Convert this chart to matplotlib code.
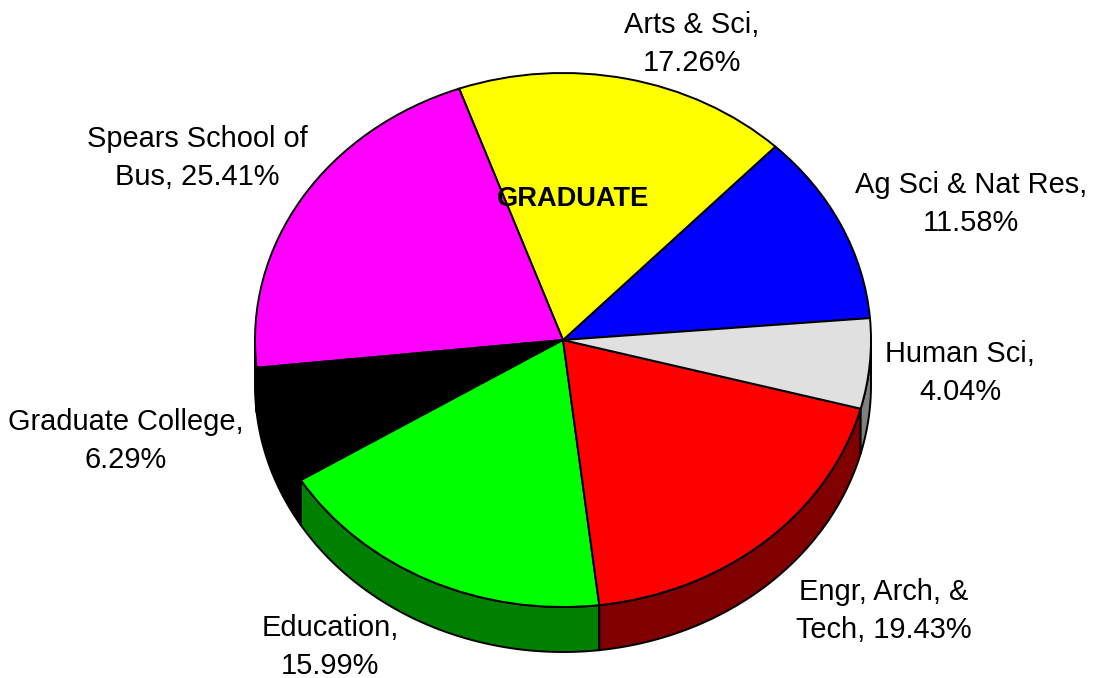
import numpy as np
import matplotlib
matplotlib.use("Agg")
import matplotlib.pyplot as plt

plt.rcParams['font.family'] = ['Liberation Sans', 'DejaVu Sans']

# labels as printed on the chart, counter clockwise from the right
names = ["Ag Sci & Nat Res,\n", "Arts & Sci,\n", "Spears School of\nBus, ", "Graduate College,\n",
         "Education,\n", "Engr, Arch, &\nTech, ", "Human Sci,\n"]
percents = [11.58, 17.26, 25.41, 6.29, 15.99, 19.43, 4.04]
# slice sizes as they are drawn in the picture (they differ a bit from the printed numbers)
drawn_shares = [11.6, 17.6, 21.2, 7.15, 18.1, 19.0, 5.45]
colors = ["#0000ff", "#ffff00", "#ff00ff", "#000000", "#00ff00", "#ff0000", "#e0e0e0"]
wall_colors = ["#000080", "#808000", "#800080", "#000000", "#008000", "#800000", "#808080"]

W, H = 1093, 678
cx, cy = 563, 340   # pie centre, pixels
rx, ry = 308, 267   # pie radii, pixels
depth = 45 / ry

fig = plt.figure(figsize=(W / 100, H / 100), dpi=100)
ax = fig.add_axes([0, 0, 1, 1])

wedges, _ = ax.pie(drawn_shares, colors=colors, startangle=4.7, counterclock=True,
                   wedgeprops=dict(edgecolor="black", linewidth=1.4, zorder=3))
ax.set_aspect('auto')
ax.set_xlim(-cx / rx, (W - cx) / rx)
ax.set_ylim(-(H - cy) / ry, cy / ry)
ax.axis('off')

# side wall of the front half of the pie
for wedge, wall in zip(wedges, wall_colors):
    t1, t2 = max(wedge.theta1, 180), min(wedge.theta2, 360)
    if t2 <= t1:
        continue
    t = np.radians(np.linspace(t1, t2, 80))
    x = np.cos(t)
    y = np.sin(t)
    ax.fill(np.r_[x, x[::-1]], np.r_[y, y[::-1] - depth], facecolor=wall,
            edgecolor="black", linewidth=1.4, zorder=1)

# label centres in pixels
label_pos = [(971, 204), (692, 44), (197.5, 158), (126, 441), (330, 647), (884, 611), (960, 373)]
for name, pct, (px, py) in zip(names, percents, label_pos):
    fig.text(px / W, 1 - py / H, f"{name}{pct:.2f}%", ha='center', va='center',
             fontsize=20.9, color="black", linespacing=1.42)

fig.text(572.5 / W, 1 - 199 / H, "GRADUATE", ha='center', va='center', fontsize=19.6,
         fontweight='bold', color="black")

fig.savefig("out.png", dpi=100)
